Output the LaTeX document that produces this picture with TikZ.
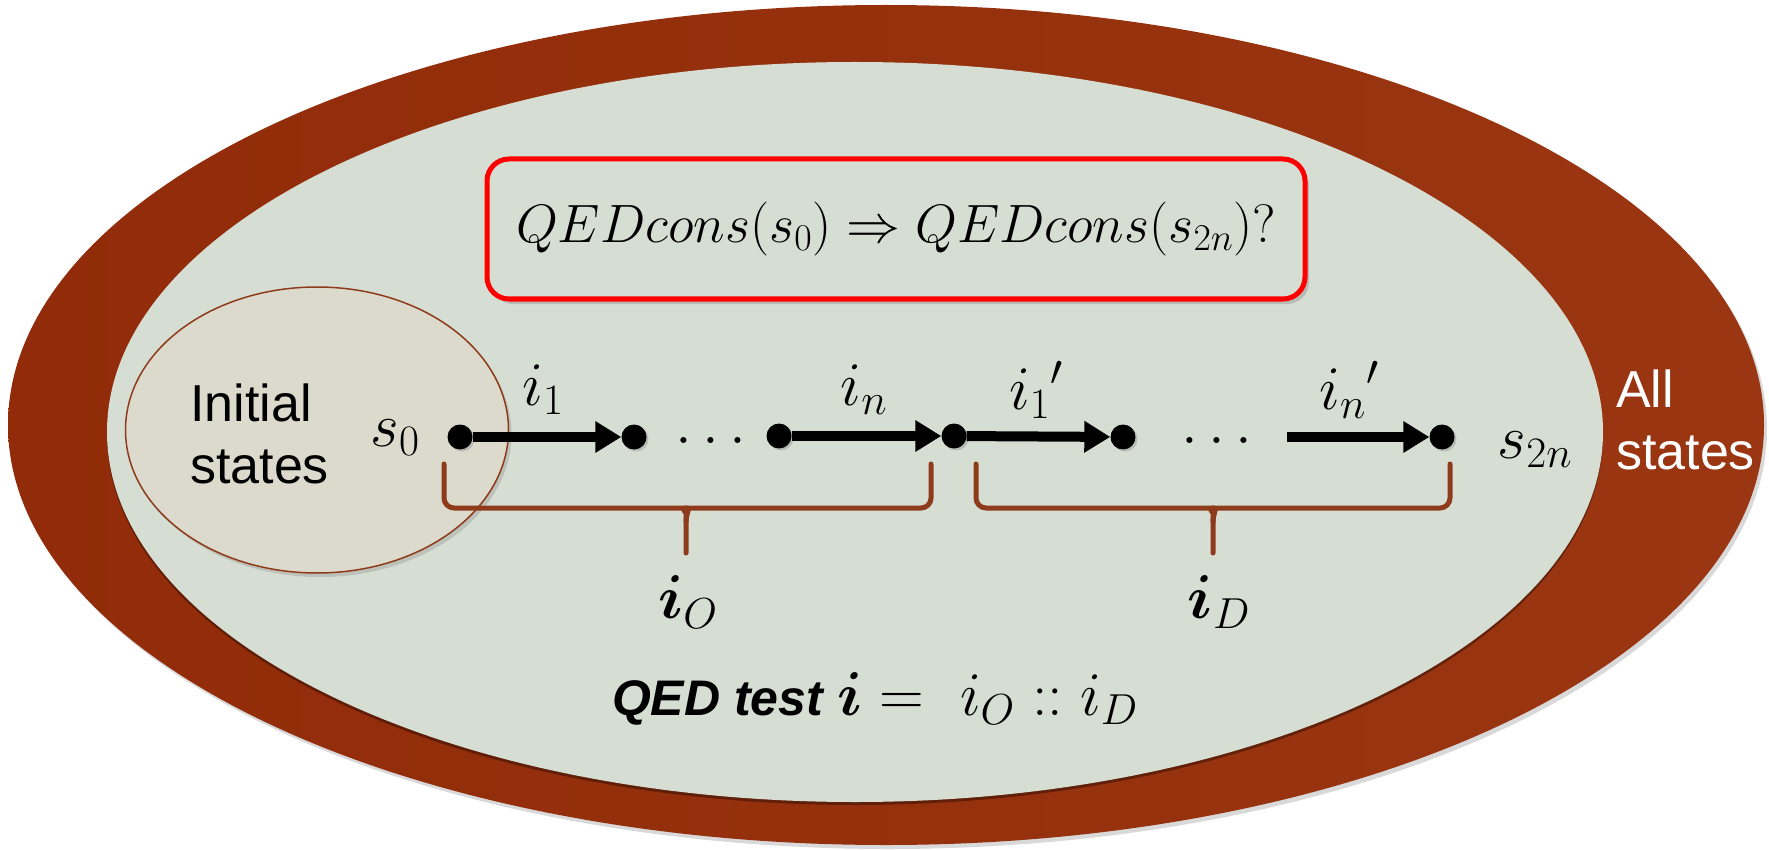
\RequirePackage{fix-cm}
\documentclass[tikz,border=0pt]{standalone}
\usepackage{amsmath}
\usepackage{fontspec}
\usepackage{tikz}
\usetikzlibrary{arrows.meta,positioning,shapes.geometric,shadows}
\newfontfamily\arialfont{Liberation Sans}
\definecolor{rust}{HTML}{912B09}
\definecolor{rustlight}{HTML}{9A3612}
\definecolor{sage}{HTML}{D6DED3}
\definecolor{sand}{HTML}{DCDACD}
\definecolor{brk}{HTML}{8E3B1C}
\tikzset{
  region/.style={ellipse, inner sep=0pt},
  st/.style={circle, fill=black, inner sep=0pt, minimum size=25pt,
    drop shadow={shadow xshift=2pt, shadow yshift=-2pt, opacity=.35}},
  trans/.style={-{Triangle[length=26pt, width=30pt]}, line width=10pt},
  mlbl/.style={font=\fontsize{62}{70}\selectfont, inner sep=0pt},
  words/.style={font=\arialfont\fontsize{52}{62}\selectfont, align=left, inner sep=0pt},
  brc/.style={draw=brk, line width=5pt, line cap=round, rounded corners=10pt},
  goalbox/.style={draw=red, line width=5pt, rounded corners=22pt, fill=sage,
    minimum width=818pt, minimum height=140pt, font=\fontsize{54}{60}\selectfont,
    drop shadow={shadow xshift=4pt, shadow yshift=-5pt, opacity=.35}}
}
\begin{document}
\begin{tikzpicture}[x=1pt, y=-1pt]
\useasboundingbox (0,0) rectangle (1769,850);
% state spaces
\node[region, left color=rust, right color=rustlight, minimum width=1756pt, minimum height=840pt,
  drop shadow={shadow xshift=3pt, shadow yshift=-4pt, opacity=.3}] (all) at (886,425) {};
\node[region, fill=sage, minimum width=1496pt, minimum height=740pt,
  drop shadow={shadow xshift=0pt, shadow yshift=-3pt, fill=black, opacity=.35}] (reach) at (855,432) {};
\node[region, fill=sand, draw=brk, line width=1.5pt, minimum width=383pt, minimum height=286pt,
  drop shadow={shadow xshift=3pt, shadow yshift=-4pt, opacity=.3}] (init) at (317,430) {};
\node[words, anchor=west] (inittxt) at (190,434) {Initial\\states};
\node[words, text=white, anchor=west] (alltxt) at (1616,420) {All\\states};
% property
\node[goalbox] (goal) at (896,229) {$QEDcons(s_0) \Rightarrow QEDcons(s_{2n})?$};
% the run
\node[st] (q0) at (460,437) {};
\node[st] (q1) at (634,437) {};
\node[st] (q2) at (779,436) {};
\node[st] (q3) at (954,436) {};
\node[st] (q4) at (1123,437) {};
\node[st] (q5) at (1442,437) {};
\coordinate (q4b) at (1287,437);
\node[mlbl] (gap1) at (711,440) {$\ldots$};
\node[mlbl] (gap2) at (1217,440) {$\ldots$};
\draw[trans] (q0) -- (q1);
\draw[trans] (q2) -- (q3);
\draw[trans] (q3) -- (q4);
\draw[trans] (q4b) -- (q5);
\node[mlbl] (s0lbl) at (395,438) {$s_0$};
\node[mlbl] (s2nlbl) at (1535,450) {$s_{2n}$};
\node[mlbl] (i1lbl) at (543,390) {$i_1$};
\node[mlbl] (inlbl) at (864,390) {$i_n$};
\node[mlbl] (j1lbl) at (1036,390) {${i_1}'$};
\node[mlbl] (jnlbl) at (1349,390) {${i_n}'$};
% halves of the test
\coordinate (oA) at (444,464);
\coordinate (oB) at (931,464);
\coordinate (oT) at (686,553);
\coordinate (dA) at (976,464);
\coordinate (dB) at (1450,464);
\coordinate (dT) at (1213,553);
\draw[brc] (oA) |- (674,508) .. controls (682,508) and (686,514) .. (686,522) -- (oT);
\draw[brc] (oB) |- (698,508) .. controls (690,508) and (686,514) .. (686,522);
\draw[brc] (dA) |- (1201,508) .. controls (1209,508) and (1213,514) .. (1213,522) -- (dT);
\draw[brc] (dB) |- (1225,508) .. controls (1217,508) and (1213,514) .. (1213,522);
\node[mlbl] (iolbl) at (688,602) {$\boldsymbol{i}_O$};
\node[mlbl] (idlbl) at (1219,602) {$\boldsymbol{i}_D$};
\node[inner sep=0pt] (qedtest) at (875,699)
  {{\arialfont\bfseries\itshape\fontsize{50}{60}\selectfont QED test }%
   {\fontsize{62}{70}\selectfont$\boldsymbol{i} =\ i_O \mathrel{::} i_D$}};
\end{tikzpicture}
\end{document}
